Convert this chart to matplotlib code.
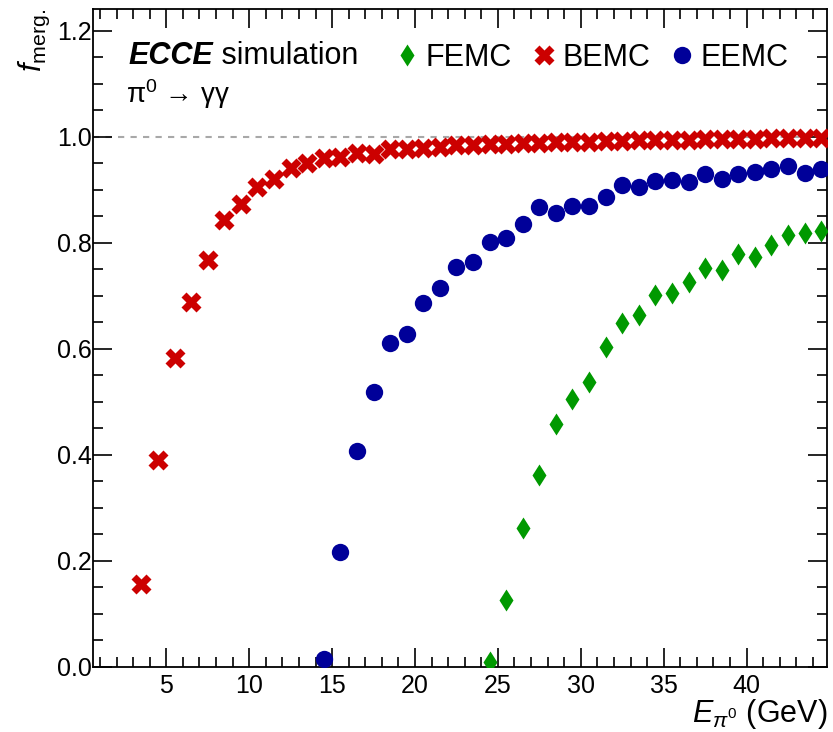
import numpy as np
import matplotlib
matplotlib.use('Agg')
import matplotlib.pyplot as plt
from matplotlib.ticker import MultipleLocator

plt.rcParams['font.family'] = ['Liberation Sans', 'DejaVu Sans']
plt.rcParams['mathtext.fontset'] = 'custom'
plt.rcParams['mathtext.rm'] = 'Liberation Sans'
plt.rcParams['mathtext.it'] = 'Liberation Sans:italic'
plt.rcParams['mathtext.bf'] = 'Liberation Sans:bold'

# data: merged fraction vs pi0 energy (bin centres)
e_bemc = np.arange(3.5, 45, 1.0)
f_bemc = [0.157, 0.390, 0.582, 0.689, 0.768, 0.843, 0.874, 0.906, 0.921, 0.941,
          0.950, 0.960, 0.962, 0.969, 0.968, 0.977, 0.977, 0.979, 0.981, 0.984,
          0.985, 0.986, 0.987, 0.988, 0.989, 0.990, 0.990, 0.991, 0.992, 0.992,
          0.993, 0.993, 0.994, 0.994, 0.995, 0.995, 0.996, 0.996, 0.997, 0.997,
          0.997, 0.998]
e_eemc = np.arange(14.5, 45, 1.0)
f_eemc = [0.016, 0.216, 0.408, 0.519, 0.611, 0.628, 0.687, 0.714, 0.755, 0.763,
          0.801, 0.809, 0.836, 0.867, 0.856, 0.870, 0.869, 0.886, 0.909, 0.906,
          0.916, 0.919, 0.914, 0.930, 0.920, 0.930, 0.933, 0.940, 0.944, 0.931,
          0.939]
e_femc = np.arange(24.5, 45, 1.0)
f_femc = [0.010, 0.126, 0.263, 0.362, 0.458, 0.506, 0.538, 0.604, 0.648, 0.663,
          0.702, 0.705, 0.727, 0.752, 0.749, 0.779, 0.774, 0.796, 0.815, 0.818,
          0.822]

xmin, xmax = 0.58, 44.85
ymin, ymax = 0.0, 1.241

fig = plt.figure(figsize=(8.33, 7.32), dpi=100)
ax = fig.add_axes([93/833, 1-667/732, 734/833, 658/732])

ax.plot([xmin, xmax], [1.0, 1.0], color='#a8a8a8', ls=(0, (3, 3)), lw=1.5, zorder=1)

ax.plot(e_femc, f_femc, 'd', color='#009900', ms=11.5, mec='none', label='FEMC', zorder=3)
ax.plot(e_bemc, f_bemc, 'X', color='#cc0000', ms=14, mec='none', label='BEMC', zorder=3)
ax.plot(e_eemc, f_eemc, 'o', color='#000099', ms=12.5, mec='none', label='EEMC', zorder=3)

ax.set_xlim(xmin, xmax)
ax.set_ylim(ymin, ymax)
ax.xaxis.set_major_locator(MultipleLocator(5))
ax.xaxis.set_minor_locator(MultipleLocator(1))
ax.yaxis.set_major_locator(MultipleLocator(0.2))
ax.yaxis.set_minor_locator(MultipleLocator(0.05))
ax.yaxis.set_major_formatter(plt.FormatStrFormatter('%.1f'))
ax.tick_params(which='both', direction='in', top=True, right=True, width=1.2, labelsize=18)
ax.tick_params(which='major', length=14)
ax.tick_params(which='minor', length=7.5)
ax.tick_params(axis='x', pad=5)
ax.tick_params(axis='y', pad=1)
for s in ax.spines.values():
    s.set_linewidth(1.3)

ax.set_xticks([5, 10, 15, 20, 25, 30, 35, 40])
ax.set_xlabel(r'$\mathit{E}_{\pi^{0}}$ (GeV)', fontsize=22, loc='right')
ax.xaxis.set_label_coords(1.0, -0.045)
ax.xaxis.label.set_va('top')
ax.set_ylabel(r'$\mathit{f}_{\mathrm{merg.}}$', fontsize=22, loc='top')
ax.yaxis.set_label_coords(-0.056, 1.0)

t1 = ax.text(0.048, 0.916, 'ECCE', transform=ax.transAxes, fontsize=22,
             fontweight='bold', fontstyle='italic', va='baseline')
ax.annotate(' simulation', xy=(1, 0), xycoords=t1, fontsize=22, va='bottom', ha='left')
ax.text(0.045, 0.857, r'π$^{0}$ → γγ', transform=ax.transAxes,
        fontsize=20, va='baseline')

ax.legend(loc='center left', bbox_to_anchor=(0.4155, 0.926), ncol=3, frameon=False,
          fontsize=22, handlelength=0.6, handletextpad=0.3, columnspacing=0.75,
          borderpad=0, borderaxespad=0)

fig.savefig('out.png', dpi=100)
